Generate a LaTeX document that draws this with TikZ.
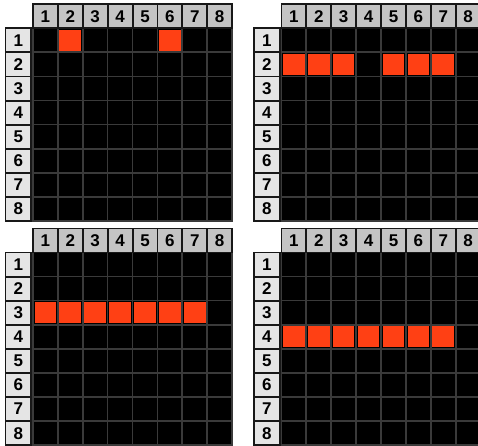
\documentclass[tikz,border=0pt]{standalone}
\usepackage{fontspec}
\setmainfont{Liberation Sans}
\usepackage{xcolor}
\usetikzlibrary{positioning}
\definecolor{line1}{RGB}{58,58,58}
\definecolor{edge1}{RGB}{24,24,24}
\definecolor{gray1}{RGB}{196,196,196}
\definecolor{gray2}{RGB}{229,229,229}
\definecolor{red1}{RGB}{255,64,20}

\tikzset{
    cell/.style={draw=line1, line width=1.7pt, fill=black, minimum width=24.9pt, minimum height=24.1pt, inner sep=0pt, anchor=north west},
    colhead/.style={draw=edge1, line width=1.9pt, fill=gray1, minimum width=24.9pt, minimum height=24pt, inner sep=0pt, anchor=north west, font=\fontsize{17}{17}\selectfont\bfseries},
    rowhead/.style={draw=edge1, line width=1.9pt, fill=gray2, minimum width=25.6pt, minimum height=24.1pt, inner sep=0pt, anchor=north east, font=\fontsize{17}{17}\selectfont\bfseries},
    lit/.style={fill=red1, minimum width=21.6pt, minimum height=20.6pt, inner sep=0pt}
}

\begin{document}
\begin{tikzpicture}[x=1pt, y=-1pt]
    \useasboundingbox (0,0) rectangle (478,445);

    % four boards
    \foreach \g/\gx/\gy in {A/32/3.3, B/280.5/3.3, C/32/227.5, D/280.5/227.5} {
        \foreach \r in {1,...,8}
            \foreach \c in {1,...,8}
                \node[cell] (\g-\r-\c) at ({\gx+(\c-1)*24.9}, {\gy+24+(\r-1)*24.1}) {};
        \foreach \c in {1,...,8}
            \node[colhead] (\g-col\c) at ({\gx+(\c-1)*24.9}, \gy) {\c};
        \foreach \r in {1,...,8}
            \node[rowhead] (\g-row\r) at (\gx, {\gy+24+(\r-1)*24.1}) {\r};
    }

    % lit cells
    \foreach \g/\r/\cols in {A/1/{2,6}, B/2/{1,2,3,5,6,7}, C/3/{1,...,7}, D/4/{1,...,7}}
        \foreach \c in \cols
            \node[lit] (\g-lit-\r-\c) at (\g-\r-\c) {};
\end{tikzpicture}
\end{document}
